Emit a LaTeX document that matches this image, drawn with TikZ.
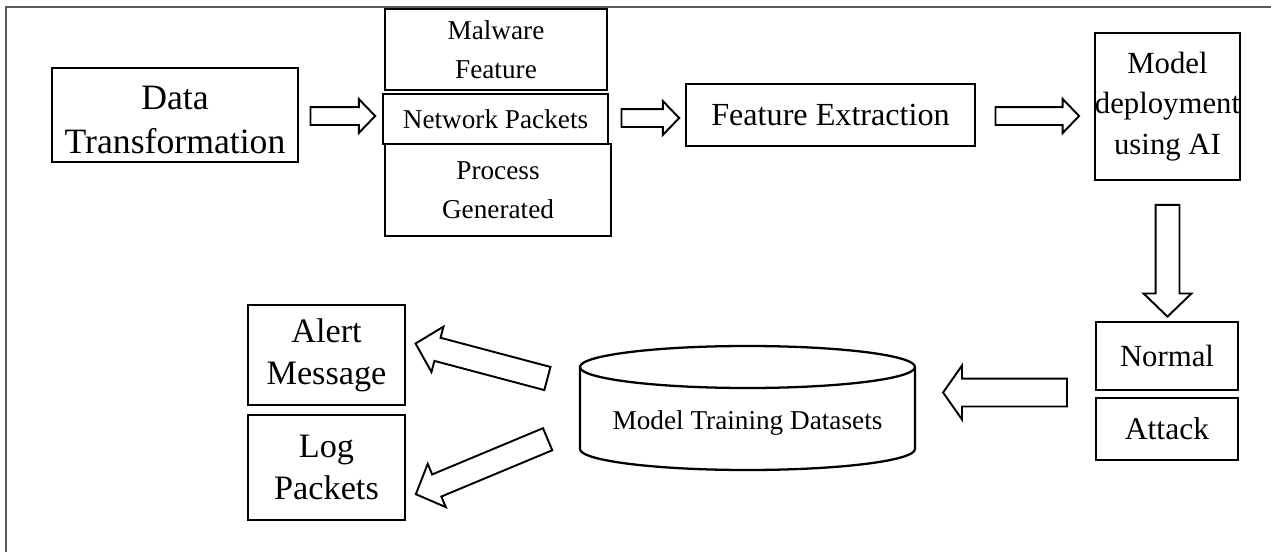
\documentclass[tikz,border=0pt]{standalone}
\usepackage{fontspec}
\setmainfont{Liberation Serif}
\usetikzlibrary{calc,shapes.arrows}

\newcommand{\bigtxt}{\fontsize{19}{24}\selectfont}
\newcommand{\smalltxt}{\fontsize{15.5}{22.5}\selectfont}
% hollow block arrow from #2 to #3
\newcommand{\hollowarrow}[3][]{%
  \path let \p1=($(#3)-(#2)$), \n1={atan2(\y1,\x1)}, \n2={veclen(\x1,\y1)} in
    node[hollow,#1,rotate=\n1,minimum height=\n2] at ($(#2)!0.5!(#3)$) {};}

\tikzset{
  box/.style={draw,line width=1.3pt,align=center,inner sep=0pt,font=\bigtxt},
  hollow/.style={draw,line width=1.1pt,single arrow,inner xsep=0pt,
    inner ysep=1.6mm,single arrow head extend=1.6mm,single arrow tip angle=92},
}

\begin{document}
\begin{tikzpicture}[x=0.2mm,y=-0.2mm]
  \useasboundingbox (0,0) rectangle (1271,552);
  % frame
  \draw[line width=0.4mm,black!65] (6,552)--(6,7)--(1271,7);
  % top row
  \node[box,font={\fontsize{20.3}{24.5}\selectfont},minimum width=49.2mm,minimum height=18.8mm] (dt) at (175,115) {\rule{0pt}{19pt}Data\\Transformation};
  \node[box,font=\smalltxt,minimum width=44.4mm,minimum height=16.2mm] (mal) at (496,49.5) {Malware\\Feature};
  \node[box,font=\smalltxt,minimum width=45mm,minimum height=10mm] (net) at (495.5,119) {Network Packets};
  \node[box,font=\smalltxt,minimum width=45.2mm,minimum height=18.4mm] (proc) at (498,190) {Process\\Generated};
  \node[box,font={\fontsize{18.3}{23}\selectfont},minimum width=57.8mm,minimum height=12.4mm] (fe) at (830.5,115) {Feature Extraction};
  \node[box,font={\fontsize{17.5}{23}\selectfont},minimum width=29mm,minimum height=29.4mm] (dep) at (1167.5,106.5) {Model\\deployment\\using AI};
  % right column
  \node[box,font={\fontsize{17.5}{23}\selectfont},minimum width=28.4mm,minimum height=13.6mm] (nor) at (1167,356) {Normal};
  \node[box,font={\fontsize{18}{23}\selectfont},minimum width=28.4mm,minimum height=12.4mm] (att) at (1167,429) {Attack};
  % datasets
  \draw[line width=1.3pt] (747.5,367) ellipse [x radius=167.5,y radius=21];
  \draw[line width=1.3pt] (580,367)--(580,449) arc[start angle=180,end angle=0,x radius=167.5,y radius=21]--(915,367);
  \node[font=\smalltxt] (mtd) at (747.5,423) {Model Training Datasets};
  % outputs
  \node[box,font={\fontsize{19.5}{24}\selectfont},minimum width=31.4mm,minimum height=20mm] (alert) at (326.5,355) {Alert\\Message};
  \node[box,font={\fontsize{19.5}{24}\selectfont},minimum width=31.4mm,minimum height=21mm] (log) at (326.5,467.5) {Log\\Packets};
  % arrows
  \coordinate (a1) at ($(dt.east)+(7,1)$);
  \coordinate (b1) at ($(net.west)+(-11,-3)$);
  \coordinate (a2) at ($(net.east)+(8,-1)$);
  \coordinate (b2) at ($(fe.west)+(-10,3)$);
  \coordinate (a3) at ($(fe.east)+(15,1)$);
  \coordinate (b3) at ($(dep.west)+(-19,9.5)$);
  \coordinate (a4) at ($(dep.south)+(0,18)$);
  \coordinate (b4) at ($(nor.north)+(0.5,-10)$);
  \coordinate (a5) at ($(nor.west)!0.5!(att.west)+(-23,0)$);
  \coordinate (b5) at (948,392.5);
  \coordinate (a6) at (553,380);
  \coordinate (b6) at ($(alert.east)+(15,-10)$);
  \coordinate (a7) at (553,437);
  \coordinate (b7) at ($(log.east)+(15,24.5)$);
  \hollowarrow{a1}{b1}
  \hollowarrow{a2}{b2}
  \hollowarrow{a3}{b3}
  \hollowarrow[inner ysep=2.2mm,single arrow head extend=2.4mm]{a4}{b4}
  \hollowarrow[inner ysep=2.6mm,single arrow head extend=2.6mm,single arrow tip angle=110]{a5}{b5}
  \hollowarrow[inner ysep=2.2mm,single arrow head extend=2.3mm]{a6}{b6}
  \hollowarrow[inner ysep=2.2mm,single arrow head extend=2.3mm]{a7}{b7}
\end{tikzpicture}
\end{document}
